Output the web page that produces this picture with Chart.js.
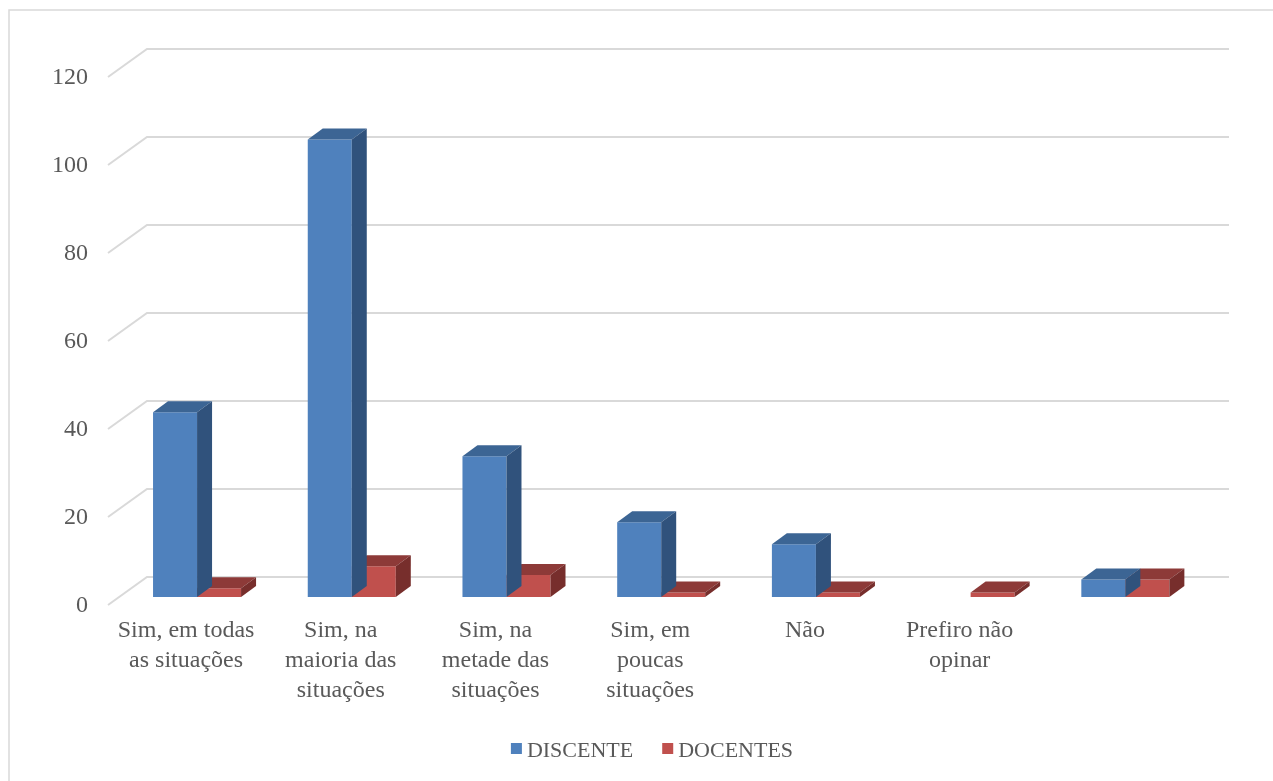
<!DOCTYPE html>
<html>
<head>
<meta charset="utf-8">
<script src="https://cdn.jsdelivr.net/npm/chart.js@4.4.1/dist/chart.umd.min.js"></script>
<style>
  body { margin: 0; background: #fff; }
  #wrap { width: 1273px; height: 781px; position: relative; }
</style>
</head>
<body>
<div id="wrap"><canvas id="grafico"></canvas></div>
<script>
// dados
const categorias = [
  ["Sim, em todas", "as situações"],
  ["Sim, na", "maioria das", "situações"],
  ["Sim, na", "metade das", "situações"],
  ["Sim, em", "poucas", "situações"],
  ["Não"],
  ["Prefiro não", "opinar"],
  [""]
];
const discente = [42, 104, 32, 17, 12, 0, 4];
const docentes = [2, 7, 5, 1, 1, 1, 4];
const ticksY = [0, 20, 40, 60, 80, 100, 120];

const FONTE = '"Liberation Serif", "DejaVu Serif", serif';
const COR_TEXTO = "#595959";
const COR_GRADE = "#D9D9D9";

// cores das faces 3D (frente, topo, lado)
const faces = [
  { frente: "#4F81BD", topo: "#3C6594", lado: "#30527C" },
  { frente: "#C0504D", topo: "#8D3A38", lado: "#772E2C" }
];
const DX = 15, DY = -11; // profundidade das barras

const efeito3d = {
  id: "efeito3d",
  beforeDraw(chart) {
    const ctx = chart.ctx;
    ctx.save();
    ctx.fillStyle = "#fff";
    ctx.fillRect(0, 0, chart.width, chart.height);
    ctx.strokeStyle = COR_GRADE;
    ctx.lineWidth = 1.5;
    ctx.strokeRect(9, 10, chart.width + 20, chart.height + 20);
    ctx.restore();
  },
  beforeDatasetsDraw(chart) {
    const ctx = chart.ctx;
    const y = chart.scales.y;
    const x = chart.scales.x;
    ctx.save();
    // grade: parede do fundo + diagonal até o eixo frontal
    ctx.strokeStyle = COR_GRADE;
    ctx.lineWidth = 2;
    ticksY.forEach((v) => {
      const py = y.getPixelForValue(v);
      ctx.beginPath();
      ctx.moveTo(108, py + 8);
      ctx.lineTo(147, py - 20);
      ctx.lineTo(1229, py - 20);
      ctx.stroke();
    });
    // rótulos do eixo Y
    ctx.fillStyle = COR_TEXTO;
    ctx.font = "24px " + FONTE;
    ctx.textAlign = "right";
    ctx.textBaseline = "middle";
    ticksY.forEach((v) => {
      ctx.fillText(String(v), 88, y.getPixelForValue(v) + 9);
    });
    // rótulos das categorias
    ctx.textAlign = "center";
    ctx.textBaseline = "alphabetic";
    categorias.forEach((linhas, i) => {
      const cx = x.getPixelForValue(i) - 11;
      linhas.forEach((t, j) => ctx.fillText(t, cx, 637 + j * 30));
    });
    // legenda
    ctx.font = "22px " + FONTE;
    ctx.textAlign = "left";
    const itens = chart.data.datasets.map((d) => ({ label: d.label, cor: d.backgroundColor }));
    const larg = itens.map((it) => 16 + ctx.measureText(it.label).width);
    const total = larg.reduce((a, b) => a + b, 0) + 29 * (itens.length - 1);
    let lx = 652 - total / 2;
    itens.forEach((it, i) => {
      ctx.fillStyle = it.cor;
      ctx.fillRect(lx, 743, 11, 11);
      ctx.fillStyle = COR_TEXTO;
      ctx.fillText(it.label, lx + 16, 757);
      lx += larg[i] + 29;
    });
    ctx.restore();
  },
  afterDatasetDraw(chart, args) {
    const ctx = chart.ctx;
    const meta = args.meta;
    const cores = faces[args.index];
    const valores = chart.data.datasets[args.index].data;
    ctx.save();
    meta.data.forEach((bar, i) => {
      if (!valores[i]) return;
      const p = bar.getProps(["x", "y", "base", "width"], true);
      const x0 = p.x - p.width / 2, x1 = p.x + p.width / 2;
      // topo
      ctx.fillStyle = cores.topo;
      ctx.beginPath();
      ctx.moveTo(x0, p.y);
      ctx.lineTo(x0 + DX, p.y + DY);
      ctx.lineTo(x1 + DX, p.y + DY);
      ctx.lineTo(x1, p.y);
      ctx.closePath();
      ctx.fill();
      // lado
      ctx.fillStyle = cores.lado;
      ctx.beginPath();
      ctx.moveTo(x1, p.y);
      ctx.lineTo(x1 + DX, p.y + DY);
      ctx.lineTo(x1 + DX, p.base + DY);
      ctx.lineTo(x1, p.base);
      ctx.closePath();
      ctx.fill();
    });
    ctx.restore();
  }
};

new Chart(document.getElementById("grafico"), {
  type: "bar",
  data: {
    labels: categorias,
    datasets: [
      { label: "DISCENTE", data: discente, backgroundColor: faces[0].frente },
      { label: "DOCENTES", data: docentes, backgroundColor: faces[1].frente }
    ]
  },
  options: {
    responsive: true,
    maintainAspectRatio: false,
    animation: false,
    datasets: { bar: { categoryPercentage: 0.569, barPercentage: 1, borderWidth: 0 } },
    layout: { padding: { left: 119.7, right: 70.3, top: 69, bottom: 184 } },
    plugins: { legend: { display: false }, tooltip: { enabled: false } },
    scales: {
      x: { display: false },
      y: { display: false, min: 0, max: 120 }
    }
  },
  plugins: [efeito3d]
});
</script>
</body>
</html>
